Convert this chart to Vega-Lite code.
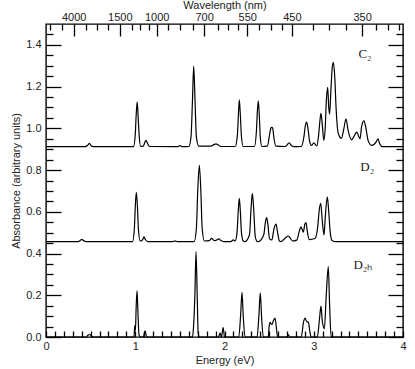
{
  "$schema": "https://vega.github.io/schema/vega-lite/v6.json",
  "width": 357,
  "height": 313,
  "autosize": {"type": "none"},
  "padding": {"left": 46, "top": 24, "right": 12, "bottom": 32},
  "config": {
    "view": {"stroke": "black", "strokeWidth": 1.4},
    "axis": {
      "domain": false, "grid": false,
      "labelFont": "Liberation Sans", "titleFont": "Liberation Sans",
      "labelFontSize": 11, "titleFontSize": 11, "titleFontWeight": "normal",
      "labelColor": "#222", "titleColor": "#222",
      "tickColor": "black", "tickWidth": 1.3,
      "labelOverlap": false, "labelFlush": false
    }
  },
  "datasets": {
    "spectra": [
      {"s":"C2","E":0,"A":0.912},{"s":"C2","E":0.44,"A":0.912},{"s":"C2","E":0.47,"A":0.92},{"s":"C2","E":0.486,"A":0.928},{"s":"C2","E":0.5,"A":0.92},{"s":"C2","E":0.53,"A":0.912},
      {"s":"C2","E":0.98,"A":0.912},{"s":"C2","E":1.0,"A":0.97},{"s":"C2","E":1.01,"A":1.06},{"s":"C2","E":1.022,"A":1.127},{"s":"C2","E":1.034,"A":1.04},{"s":"C2","E":1.045,"A":0.96},{"s":"C2","E":1.06,"A":0.914},
      {"s":"C2","E":1.09,"A":0.915},{"s":"C2","E":1.105,"A":0.93},{"s":"C2","E":1.12,"A":0.942},{"s":"C2","E":1.135,"A":0.93},{"s":"C2","E":1.16,"A":0.913},
      {"s":"C2","E":1.47,"A":0.912},{"s":"C2","E":1.5,"A":0.917},{"s":"C2","E":1.53,"A":0.912},
      {"s":"C2","E":1.6,"A":0.913},{"s":"C2","E":1.625,"A":0.96},{"s":"C2","E":1.64,"A":1.12},{"s":"C2","E":1.655,"A":1.298},{"s":"C2","E":1.67,"A":1.13},{"s":"C2","E":1.685,"A":0.96},{"s":"C2","E":1.71,"A":0.915},
      {"s":"C2","E":1.85,"A":0.915},{"s":"C2","E":1.88,"A":0.922},{"s":"C2","E":1.905,"A":0.926},{"s":"C2","E":1.93,"A":0.92},{"s":"C2","E":1.96,"A":0.913},
      {"s":"C2","E":2.12,"A":0.913},{"s":"C2","E":2.145,"A":0.97},{"s":"C2","E":2.155,"A":1.06},{"s":"C2","E":2.166,"A":1.136},{"s":"C2","E":2.178,"A":1.06},{"s":"C2","E":2.19,"A":0.96},{"s":"C2","E":2.21,"A":0.913},
      {"s":"C2","E":2.335,"A":0.913},{"s":"C2","E":2.358,"A":0.99},{"s":"C2","E":2.368,"A":1.08},{"s":"C2","E":2.379,"A":1.132},{"s":"C2","E":2.39,"A":1.06},{"s":"C2","E":2.402,"A":0.95},{"s":"C2","E":2.42,"A":0.913},
      {"s":"C2","E":2.48,"A":0.915},{"s":"C2","E":2.505,"A":0.97},{"s":"C2","E":2.52,"A":1.002},{"s":"C2","E":2.53,"A":1.005},{"s":"C2","E":2.54,"A":1.0},{"s":"C2","E":2.555,"A":0.95},{"s":"C2","E":2.575,"A":0.915},
      {"s":"C2","E":2.68,"A":0.913},{"s":"C2","E":2.71,"A":0.925},{"s":"C2","E":2.726,"A":0.931},{"s":"C2","E":2.745,"A":0.92},{"s":"C2","E":2.77,"A":0.912},
      {"s":"C2","E":2.86,"A":0.913},{"s":"C2","E":2.89,"A":0.96},{"s":"C2","E":2.905,"A":1.01},{"s":"C2","E":2.92,"A":1.03},{"s":"C2","E":2.935,"A":1.0},{"s":"C2","E":2.955,"A":0.935},{"s":"C2","E":2.975,"A":0.918},
      {"s":"C2","E":3.0,"A":0.93},{"s":"C2","E":3.035,"A":0.916},{"s":"C2","E":3.055,"A":0.97},{"s":"C2","E":3.07,"A":1.04},{"s":"C2","E":3.081,"A":1.072},{"s":"C2","E":3.095,"A":1.02},{"s":"C2","E":3.113,"A":0.942},
      {"s":"C2","E":3.128,"A":1.0},{"s":"C2","E":3.142,"A":1.14},{"s":"C2","E":3.156,"A":1.196},{"s":"C2","E":3.168,"A":1.1},{"s":"C2","E":3.178,"A":1.068},{"s":"C2","E":3.192,"A":1.18},{"s":"C2","E":3.207,"A":1.29},{"s":"C2","E":3.22,"A":1.316},{"s":"C2","E":3.235,"A":1.25},{"s":"C2","E":3.25,"A":1.1},{"s":"C2","E":3.275,"A":0.975},
      {"s":"C2","E":3.31,"A":0.952},{"s":"C2","E":3.338,"A":1.0},{"s":"C2","E":3.361,"A":1.046},{"s":"C2","E":3.385,"A":0.99},{"s":"C2","E":3.425,"A":0.945},{"s":"C2","E":3.455,"A":0.965},{"s":"C2","E":3.481,"A":0.982},{"s":"C2","E":3.518,"A":0.95},
      {"s":"C2","E":3.537,"A":1.01},{"s":"C2","E":3.563,"A":1.036},{"s":"C2","E":3.585,"A":1.0},{"s":"C2","E":3.61,"A":0.94},{"s":"C2","E":3.65,"A":0.918},{"s":"C2","E":3.7,"A":0.935},{"s":"C2","E":3.72,"A":0.95},{"s":"C2","E":3.74,"A":0.925},{"s":"C2","E":3.77,"A":0.912},{"s":"C2","E":4.0,"A":0.912},

      {"s":"D2","E":0,"A":0.457},{"s":"D2","E":0.36,"A":0.457},{"s":"D2","E":0.385,"A":0.463},{"s":"D2","E":0.4,"A":0.468},{"s":"D2","E":0.42,"A":0.462},{"s":"D2","E":0.45,"A":0.457},
      {"s":"D2","E":0.97,"A":0.457},{"s":"D2","E":0.99,"A":0.52},{"s":"D2","E":1.0,"A":0.62},{"s":"D2","E":1.012,"A":0.693},{"s":"D2","E":1.025,"A":0.62},{"s":"D2","E":1.035,"A":0.52},{"s":"D2","E":1.055,"A":0.46},
      {"s":"D2","E":1.08,"A":0.465},{"s":"D2","E":1.098,"A":0.48},{"s":"D2","E":1.115,"A":0.466},{"s":"D2","E":1.14,"A":0.457},
      {"s":"D2","E":1.42,"A":0.457},{"s":"D2","E":1.445,"A":0.461},{"s":"D2","E":1.47,"A":0.457},
      {"s":"D2","E":1.66,"A":0.457},{"s":"D2","E":1.685,"A":0.52},{"s":"D2","E":1.7,"A":0.7},{"s":"D2","E":1.718,"A":0.823},{"s":"D2","E":1.735,"A":0.7},{"s":"D2","E":1.75,"A":0.52},{"s":"D2","E":1.775,"A":0.46},
      {"s":"D2","E":1.83,"A":0.462},{"s":"D2","E":1.856,"A":0.473},{"s":"D2","E":1.875,"A":0.465},{"s":"D2","E":1.895,"A":0.462},{"s":"D2","E":1.938,"A":0.47},{"s":"D2","E":1.96,"A":0.462},{"s":"D2","E":1.99,"A":0.457},
      {"s":"D2","E":2.07,"A":0.457},{"s":"D2","E":2.099,"A":0.465},{"s":"D2","E":2.12,"A":0.46},{"s":"D2","E":2.14,"A":0.5},{"s":"D2","E":2.155,"A":0.61},{"s":"D2","E":2.166,"A":0.664},{"s":"D2","E":2.178,"A":0.6},{"s":"D2","E":2.19,"A":0.5},{"s":"D2","E":2.21,"A":0.46},
      {"s":"D2","E":2.23,"A":0.457},{"s":"D2","E":2.28,"A":0.49},{"s":"D2","E":2.298,"A":0.62},{"s":"D2","E":2.312,"A":0.689},{"s":"D2","E":2.326,"A":0.62},{"s":"D2","E":2.345,"A":0.48},{"s":"D2","E":2.37,"A":0.457},
      {"s":"D2","E":2.38,"A":0.457},{"s":"D2","E":2.44,"A":0.49},{"s":"D2","E":2.458,"A":0.55},{"s":"D2","E":2.472,"A":0.572},{"s":"D2","E":2.486,"A":0.54},{"s":"D2","E":2.505,"A":0.47},
      {"s":"D2","E":2.53,"A":0.465},{"s":"D2","E":2.555,"A":0.52},{"s":"D2","E":2.577,"A":0.541},{"s":"D2","E":2.595,"A":0.5},{"s":"D2","E":2.615,"A":0.46},{"s":"D2","E":2.633,"A":0.457},
      {"s":"D2","E":2.67,"A":0.47},{"s":"D2","E":2.715,"A":0.484},{"s":"D2","E":2.735,"A":0.475},{"s":"D2","E":2.764,"A":0.46},{"s":"D2","E":2.81,"A":0.464},
      {"s":"D2","E":2.84,"A":0.51},{"s":"D2","E":2.857,"A":0.528},{"s":"D2","E":2.883,"A":0.502},{"s":"D2","E":2.9,"A":0.54},{"s":"D2","E":2.913,"A":0.548},{"s":"D2","E":2.93,"A":0.5},{"s":"D2","E":2.95,"A":0.467},
      {"s":"D2","E":3.014,"A":0.472},{"s":"D2","E":3.045,"A":0.53},{"s":"D2","E":3.062,"A":0.61},{"s":"D2","E":3.078,"A":0.641},{"s":"D2","E":3.095,"A":0.56},{"s":"D2","E":3.115,"A":0.489},
      {"s":"D2","E":3.13,"A":0.58},{"s":"D2","E":3.152,"A":0.672},{"s":"D2","E":3.168,"A":0.6},{"s":"D2","E":3.185,"A":0.5},{"s":"D2","E":3.205,"A":0.462},{"s":"D2","E":3.238,"A":0.457},{"s":"D2","E":4.0,"A":0.457},

      {"s":"D2h","E":0,"A":0},{"s":"D2h","E":0.45,"A":0},{"s":"D2h","E":0.47,"A":0.008},{"s":"D2h","E":0.49,"A":0.012},{"s":"D2h","E":0.51,"A":0.005},{"s":"D2h","E":0.53,"A":0},
      {"s":"D2h","E":0.985,"A":0},{"s":"D2h","E":0.995,"A":0.055},{"s":"D2h","E":1.002,"A":0.03},{"s":"D2h","E":1.01,"A":0.14},{"s":"D2h","E":1.02,"A":0.222},{"s":"D2h","E":1.03,"A":0.12},{"s":"D2h","E":1.042,"A":0.01},{"s":"D2h","E":1.06,"A":0},
      {"s":"D2h","E":1.09,"A":0},{"s":"D2h","E":1.11,"A":0.03},{"s":"D2h","E":1.125,"A":0.005},{"s":"D2h","E":1.14,"A":0},
      {"s":"D2h","E":1.64,"A":0},{"s":"D2h","E":1.651,"A":0.035},{"s":"D2h","E":1.668,"A":0.2},{"s":"D2h","E":1.681,"A":0.409},{"s":"D2h","E":1.694,"A":0.2},{"s":"D2h","E":1.705,"A":0.02},{"s":"D2h","E":1.72,"A":0},
      {"s":"D2h","E":1.935,"A":0},{"s":"D2h","E":1.95,"A":0.02},{"s":"D2h","E":1.965,"A":0},{"s":"D2h","E":1.985,"A":0.045},{"s":"D2h","E":2.0,"A":0},
      {"s":"D2h","E":2.16,"A":0},{"s":"D2h","E":2.18,"A":0.1},{"s":"D2h","E":2.196,"A":0.214},{"s":"D2h","E":2.21,"A":0.1},{"s":"D2h","E":2.23,"A":0},
      {"s":"D2h","E":2.365,"A":0},{"s":"D2h","E":2.385,"A":0.1},{"s":"D2h","E":2.401,"A":0.212},{"s":"D2h","E":2.415,"A":0.1},{"s":"D2h","E":2.435,"A":0},
      {"s":"D2h","E":2.49,"A":0},{"s":"D2h","E":2.5,"A":0.05},{"s":"D2h","E":2.51,"A":0.07},{"s":"D2h","E":2.53,"A":0.06},{"s":"D2h","E":2.55,"A":0.08},{"s":"D2h","E":2.566,"A":0.09},{"s":"D2h","E":2.58,"A":0.05},{"s":"D2h","E":2.595,"A":0},
      {"s":"D2h","E":2.7,"A":0},{"s":"D2h","E":2.715,"A":0.012},{"s":"D2h","E":2.73,"A":0},
      {"s":"D2h","E":2.86,"A":0},{"s":"D2h","E":2.885,"A":0.07},{"s":"D2h","E":2.902,"A":0.09},{"s":"D2h","E":2.92,"A":0.075},{"s":"D2h","E":2.94,"A":0.07},{"s":"D2h","E":2.955,"A":0.03},{"s":"D2h","E":2.97,"A":0},
      {"s":"D2h","E":3.04,"A":0},{"s":"D2h","E":3.065,"A":0.09},{"s":"D2h","E":3.081,"A":0.148},{"s":"D2h","E":3.095,"A":0.08},{"s":"D2h","E":3.119,"A":0.04},{"s":"D2h","E":3.14,"A":0.2},{"s":"D2h","E":3.163,"A":0.337},{"s":"D2h","E":3.178,"A":0.15},{"s":"D2h","E":3.195,"A":0},{"s":"D2h","E":4.0,"A":0}
    ],
    "labels": [
      {"E": 3.574, "A": 1.356, "t": "C₂"},
      {"E": 3.6, "A": 0.813, "t": "D₂"},
      {"E": 3.55, "A": 0.345, "t": "D₂ₕ"}
    ]
  },
  "layer": [
    {
      "data": {"name": "spectra"},
      "mark": {"type": "line", "interpolate": "monotone", "color": "black", "strokeWidth": 1.2},
      "encoding": {
        "x": {"field": "E", "type": "quantitative", "scale": {"domain": [0, 4], "nice": false},
          "axis": {"orient": "bottom", "title": "Energy (eV)", "tickSize": -6,
            "values": [0,0.1,0.2,0.3,0.4,0.5,0.6,0.7,0.8,0.9,1,1.1,1.2,1.3,1.4,1.5,1.6,1.7,1.8,1.9,2,2.1,2.2,2.3,2.4,2.5,2.6,2.7,2.8,2.9,3,3.1,3.2,3.3,3.4,3.5,3.6,3.7,3.8,3.9,4],
            "labelExpr": "datum.value % 1 == 0 ? format(datum.value, 'd') : ''",
            "labelPadding": 9, "titlePadding": 3}},
        "y": {"field": "A", "type": "quantitative", "scale": {"domain": [0, 1.5], "nice": false},
          "axis": {"orient": "left", "title": "Absorbance (arbitrary units)", "tickSize": -15,
            "values": [0,0.2,0.4,0.6,0.8,1.0,1.2,1.4], "format": ".1f", "labelPadding": 20, "titlePadding": 4}},
        "detail": {"field": "s"}
      }
    },
    {
      "data": {"name": "labels"},
      "mark": {"type": "text", "font": "Liberation Serif", "fontSize": 13, "color": "#222"},
      "encoding": {
        "x": {"field": "E", "type": "quantitative", "scale": {"domain": [0, 4], "nice": false},
          "axis": {"orient": "top", "title": "Wavelength (nm)", "tickSize": -12,
            "values": [0.30996, 0.82656, 1.23984, 1.7712, 2.25425, 2.7552, 3.5424],
            "labelExpr": "format(1239.84 / datum.value, '.0f')", "labelPadding": 14, "titlePadding": 1}},
        "y": {"field": "A", "type": "quantitative", "scale": {"domain": [0, 1.5], "nice": false},
          "axis": {"orient": "left", "title": null, "labels": false, "tickSize": -7,
            "values": [0.05,0.1,0.15,0.25,0.3,0.35,0.45,0.5,0.55,0.65,0.7,0.75,0.85,0.9,0.95,1.05,1.1,1.15,1.25,1.3,1.35,1.45]}},
        "text": {"field": "t"}
      }
    },
    {
      "data": {"name": "spectra"},
      "mark": {"type": "line", "strokeOpacity": 0},
      "encoding": {
        "x": {"field": "E", "type": "quantitative", "scale": {"domain": [0, 4], "nice": false},
          "axis": {"orient": "top", "title": null, "labels": false, "tickSize": -6,
            "values": [0.045, 0.176, 0.45, 0.574, 0.697, 0.967, 1.057, 1.159, 1.372, 1.507, 1.642, 1.923, 2.036, 2.148, 2.385, 2.52, 2.643, 2.99, 3.17, 3.36, 3.7, 3.836, 3.96]}},
        "y": {"field": "A", "type": "quantitative", "scale": {"domain": [0, 1.5], "nice": false},
          "axis": {"orient": "right", "title": null, "labels": false, "tickSize": -15,
            "values": [0,0.2,0.4,0.6,0.8,1.0,1.2,1.4]}},
        "detail": {"field": "s"}
      }
    },
    {
      "data": {"name": "spectra"},
      "mark": {"type": "line", "strokeOpacity": 0},
      "encoding": {
        "x": {"field": "E", "type": "quantitative", "scale": {"domain": [0, 4], "nice": false}, "axis": null},
        "y": {"field": "A", "type": "quantitative", "scale": {"domain": [0, 1.5], "nice": false},
          "axis": {"orient": "right", "title": null, "labels": false, "tickSize": -7,
            "values": [0.05,0.1,0.15,0.25,0.3,0.35,0.45,0.5,0.55,0.65,0.7,0.75,0.85,0.9,0.95,1.05,1.1,1.15,1.25,1.3,1.35,1.45]}},
        "detail": {"field": "s"}
      }
    }
  ],
  "resolve": {"scale": {"x": "independent", "y": "independent"}}
}
